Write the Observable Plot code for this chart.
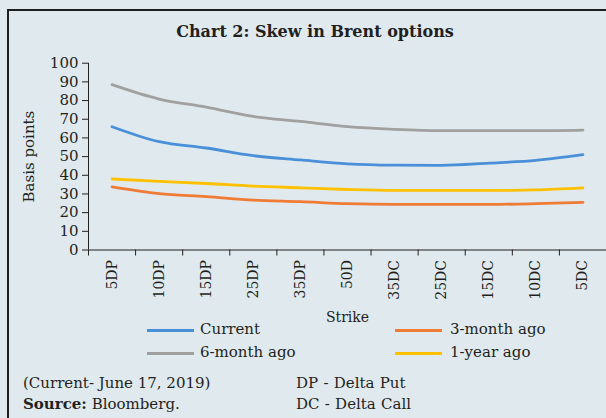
<!DOCTYPE html>
<html><head><meta charset="utf-8">
<script src="https://cdn.jsdelivr.net/npm/d3@7"></script>
<script src="https://cdn.jsdelivr.net/npm/@observablehq/plot@0.6"></script>
<style>
body{margin:0;background:#e0eaee;}
#wrap{position:relative;width:606px;height:418px;overflow:hidden;background:#e0eaee;font-family:"DejaVu Serif",serif;color:#231f20;}
#frame{position:absolute;left:7px;top:9px;width:700px;height:500px;border-left:2px solid #1e1e1e;border-top:2px solid #1e1e1e;}
#title{position:absolute;left:0;width:630px;text-align:center;top:21px;font-weight:bold;font-size:16px;line-height:22px;}
#chart{position:absolute;left:0;top:40px;}
.leg{position:absolute;font-size:15px;line-height:18px;}
.sw{position:absolute;height:3px;}
.note{position:absolute;font-size:15px;line-height:18px;white-space:nowrap;}
.note.w{word-spacing:0.5px;}
</style></head>
<body><div id="wrap"><div id="frame"></div><div id="title">Chart 2: Skew in Brent options</div><div id="chart"></div><div id="legend"></div>
<div class="note" style="left:23px;top:374px;">(Current- June 17, 2019)</div>
<div class="note" style="left:23px;top:395px;"><b>Source:</b> Bloomberg.</div>
<div class="note w" style="left:296px;top:374px;">DP - Delta Put</div>
<div class="note w" style="left:296px;top:395px;">DC - Delta Call</div>
</div>
<script>
const strikes = ["5DP","10DP","15DP","25DP","35DP","50D","35DC","25DC","15DC","10DC","5DC"];
const seriesNames = ["Current","3-month ago","6-month ago","1-year ago"];
const seriesColors = ["#4a90d9","#ef7b34","#a0a0a0","#ffc000"];
const current    = [66, 58, 54.6, 50.5, 48.2, 46.1, 45.4, 45.3, 46.5, 48, 51];
const threeMonth = [33.8, 30.2, 28.6, 26.7, 25.9, 24.8, 24.4, 24.4, 24.4, 24.8, 25.5];
const sixMonth   = [88.5, 80.8, 76.5, 71.5, 68.8, 66, 64.6, 63.9, 63.9, 63.9, 64.2];
const oneYear    = [38, 36.7, 35.6, 34.2, 33.3, 32.4, 31.9, 31.9, 31.9, 32.2, 33.3];
const yTicks = [0,10,20,30,40,50,60,70,80,90,100];

const seriesValues = [current, threeMonth, sixMonth, oneYear];
const data = [];
seriesValues.forEach((vals, s) => vals.forEach((v, i) => data.push({series: seriesNames[s], pos: i + 0.5, value: v})));

const plot = Plot.plot({
  width: 606, height: 285,
  marginLeft: 88, marginRight: 0, marginTop: 22.7, marginBottom: 75.5,
  style: {fontFamily: "DejaVu Serif", fontSize: "14px", background: "transparent", color: "#231f20"},
  x: {type: "linear", domain: [0, strikes.length]},
  y: {domain: [0, 100]},
  color: {domain: seriesNames, range: seriesColors},
  marks: [
    Plot.axisY({ticks: yTicks, tickSize: 6, tickPadding: 4, label: "Basis points", labelAnchor: "center", labelArrow: "none", labelOffset: 65, fontSize: 15}),
    Plot.axisX({ticks: d3.range(0, strikes.length + 1), tickSize: 6, tickFormat: () => "", label: null}),
    Plot.axisX({ticks: strikes.map((d, i) => i + 0.5), tickFormat: v => strikes[Math.floor(v)], tickSize: 0, tickPadding: 10, tickRotate: -90, fontSize: 14, label: "Strike", labelAnchor: "center", labelArrow: "none", labelOffset: 72}),
    Plot.ruleX([0], {stroke: "#231f20"}),
    Plot.ruleY([0], {stroke: "#231f20"}),
    Plot.line(data, {x: "pos", y: "value", stroke: "series", z: "series", curve: "monotone-x", strokeWidth: 2.8})
  ]
});
document.getElementById("chart").appendChild(plot);

const legendItems = [
  {i: 0, sx: 147, tx: 200, y: 330},
  {i: 1, sx: 395, tx: 450, y: 330},
  {i: 2, sx: 147, tx: 200, y: 353},
  {i: 3, sx: 395, tx: 450, y: 353}
];
const leg = document.getElementById("legend");
legendItems.forEach(it => {
  const sw = document.createElement("div");
  sw.className = "sw";
  sw.style.left = it.sx + "px"; sw.style.top = (it.y - 1.5) + "px";
  sw.style.width = "47px"; sw.style.background = seriesColors[it.i];
  leg.appendChild(sw);
  const t = document.createElement("div");
  t.className = "leg";
  t.style.left = it.tx + "px"; t.style.top = (it.y - 10) + "px";
  t.textContent = seriesNames[it.i];
  leg.appendChild(t);
});
</script></body></html>
